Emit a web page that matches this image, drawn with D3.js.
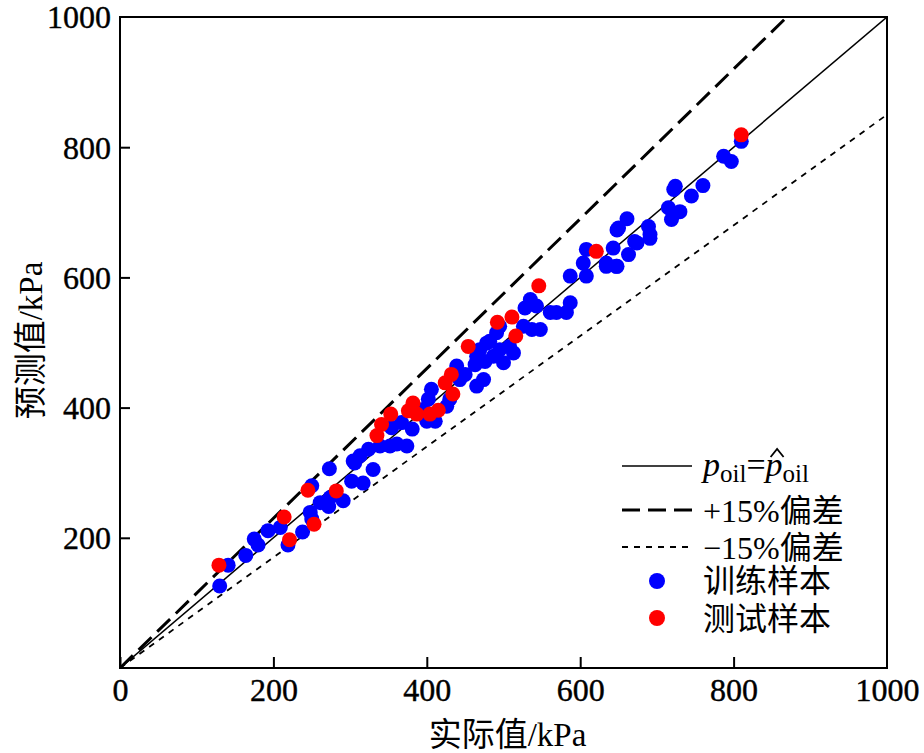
<!DOCTYPE html>
<html><head><meta charset="utf-8">
<script src="https://cdn.jsdelivr.net/npm/d3@7/dist/d3.min.js"></script>
<style>body{margin:0;background:#fff}svg{display:block}</style>
</head><body>
<svg id="c" width="924" height="753"></svg>
<script>
const xTicks = [0,200,400,600,800,1000];
const yTicks = [200,400,600,800,1000];
const trainSamples = [[130,126],[141,158],[164,173],[175,198],[180,189],[193,211],[209,216],[219,189],[238,209],[250,229],[248,239],[250,280],[261,254],[272,248],[274,262],[291,257],[273,306],[302,287],[304,318],[317,284],[306,315],[313,326],[324,336],[330,305],[339,341],[352,341],[361,344],[374,341],[354,369],[367,377],[381,367],[400,379],[411,379],[395,397],[402,413],[406,428],[426,402],[430,413],[439,464],[450,451],[465,433],[474,443],[463,466],[476,471],[469,489],[482,502],[495,489],[508,494],[513,484],[491,515],[526,525],[528,553],[465,479],[478,499],[487,479],[500,469],[495,525],[535,566],[543,556],[537,520],[548,520],[561,546],[569,546],[587,561],[582,546],[587,602],[608,602],[604,622],[608,643],[643,645],[647,617],[634,617],[663,635],[671,655],[691,666],[648,673],[443,443],[810,809],[787,786],[797,778],[724,740],[722,735],[760,741],[745,725],[715,707],[730,701],[719,689],[661,690],[650,676],[689,678],[691,660],[674,653],[634,622],[648,617]];
const testSamples = [[129,158],[214,232],[221,197],[253,221],[245,273],[282,272],[335,357],[341,374],[353,390],[376,395],[382,407],[387,390],[404,390],[415,396],[424,438],[432,451],[434,421],[454,494],[492,531],[511,539],[516,510],[546,587],[621,640],[810,819]];
const refLines = [{name:"equal", k:1.0},{name:"plus", k:1.15},{name:"minus", k:0.85}];
const legendLabels = ["+15%偏差","−15%偏差","训练样本","测试样本"];

const svg = d3.select("#c");
const L=120,R=887,T=17,B=668;
const x = d3.scaleLinear().domain([0,1000]).range([L,R]);
const y = d3.scaleLinear().domain([0,1000]).range([B,T]);
const serif = "'Liberation Serif','Times New Roman',serif";
const cjk = "'Liberation Serif','Noto Sans CJK SC',serif";

svg.append("defs").append("clipPath").attr("id","clip").append("rect")
  .attr("x",L).attr("y",T).attr("width",R-L).attr("height",B-T);

const styles = {equal:{w:1.5,d:null},plus:{w:3,d:"18,8"},minus:{w:1.8,d:"6,6"}};
const gl = svg.append("g").attr("clip-path","url(#clip)");
refLines.forEach(r=>{
  const xe = Math.min(1000, 1000/r.k);
  gl.append("line").attr("x1",x(0)).attr("y1",y(0)).attr("x2",x(xe)).attr("y2",y(xe*r.k))
    .attr("stroke","#000").attr("stroke-width",styles[r.name].w)
    .attr("stroke-dasharray",styles[r.name].d);
});

const gp = svg.append("g");
gp.selectAll("circle.tr").data(trainSamples).join("circle").attr("class","tr")
  .attr("cx",d=>x(d[0])).attr("cy",d=>y(d[1])).attr("r",7.5).attr("fill","#0000ff");
gp.selectAll("circle.te").data(testSamples).join("circle").attr("class","te")
  .attr("cx",d=>x(d[0])).attr("cy",d=>y(d[1])).attr("r",7.5).attr("fill","#ff0000");

svg.append("rect").attr("x",L).attr("y",T).attr("width",R-L).attr("height",B-T)
  .attr("fill","none").attr("stroke","#000").attr("stroke-width",2);

const xa = svg.append("g").attr("transform",`translate(0,${B})`)
  .call(d3.axisTop(x).tickValues(xTicks).tickSize(11).tickFormat(d3.format("d")));
xa.select(".domain").remove();
xa.selectAll("line").attr("stroke","#000").attr("stroke-width",2);
xa.selectAll("text").attr("transform",null).attr("y",33).attr("dy",0)
  .attr("font-family",serif).attr("font-size",32).attr("fill","#000").attr("text-anchor","middle")
  .attr("stroke","#000").attr("stroke-width",0.4);
xa.selectAll(".tick").filter(d=>d===1000).select("line").remove();

const ya = svg.append("g").attr("transform",`translate(${L},0)`)
  .call(d3.axisRight(y).tickValues(yTicks).tickSize(10).tickFormat(d3.format("d")));
ya.select(".domain").remove();
ya.selectAll("line").attr("stroke","#000").attr("stroke-width",2);
ya.selectAll("text").attr("x",-9).attr("dy","0.34em").attr("text-anchor","end")
  .attr("font-family",serif).attr("font-size",32).attr("fill","#000")
  .attr("stroke","#000").attr("stroke-width",0.4);
ya.selectAll(".tick").filter(d=>d===1000).select("line").remove();

svg.append("text").attr("x",(L+R)/2+4).attr("y",746).attr("text-anchor","middle")
  .attr("font-family",cjk).attr("font-size",33).attr("fill","#000").text("实际值/kPa");
svg.append("text").attr("transform",`translate(42,${(T+B)/2-2}) rotate(-90)`).attr("text-anchor","middle")
  .attr("font-family",cjk).attr("font-size",33).attr("fill","#000").text("预测值/kPa");

// legend
const lg = svg.append("g");
const lx1=622,lx2=692,tx=703;
const rows=[466,510,547];
["equal","plus","minus"].forEach((n,i)=>{
  lg.append("line").attr("x1",lx1).attr("x2",lx2).attr("y1",rows[i]).attr("y2",rows[i])
    .attr("stroke","#000").attr("stroke-width",styles[n].w)
    .attr("stroke-dasharray",styles[n].d);
});
const t0 = lg.append("text").attr("x",tx).attr("y",rows[0]+10).attr("font-family",serif).attr("font-size",34).attr("fill","#000");
t0.append("tspan").attr("font-style","italic").text("p");
t0.append("tspan").attr("font-size",25).attr("dy",6).text("oil");
t0.append("tspan").attr("dy",-6).text("=");
t0.append("tspan").attr("font-style","italic").text("p");
t0.append("tspan").attr("font-size",25).attr("dy",6).text("oil");
const pp = t0.node().getStartPositionOfChar(5);
const pw = t0.node().getSubStringLength(5,1);
const hx = pp.x + pw/2 + 3, hy = rows[0] - 17;
lg.append("path").attr("d",`M${hx-6.5},${hy+8}L${hx},${hy}L${hx+6.5},${hy+8}`)
  .attr("fill","none").attr("stroke","#000").attr("stroke-width",1.8);

const lfs = 32;
lg.append("text").attr("x",tx).attr("y",rows[1]+12).attr("font-family",cjk).attr("font-size",lfs).attr("fill","#000").text(legendLabels[0]);
lg.append("text").attr("x",tx).attr("y",rows[2]+12).attr("font-family",cjk).attr("font-size",lfs).attr("fill","#000").text(legendLabels[1]);
lg.append("circle").attr("cx",657).attr("cy",581).attr("r",8).attr("fill","#0000ff");
lg.append("circle").attr("cx",657).attr("cy",618).attr("r",8).attr("fill","#ff0000");
lg.append("text").attr("x",tx).attr("y",592).attr("font-family",cjk).attr("font-size",lfs).attr("fill","#000").text(legendLabels[2]);
lg.append("text").attr("x",tx).attr("y",630).attr("font-family",cjk).attr("font-size",lfs).attr("fill","#000").text(legendLabels[3]);
</script>
</body></html>
